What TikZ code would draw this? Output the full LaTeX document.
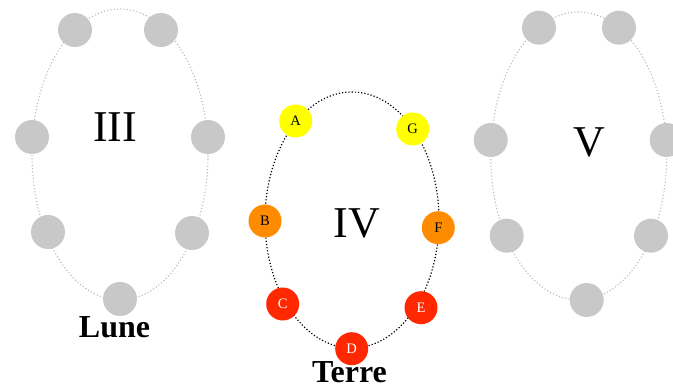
\documentclass[tikz,border=0pt]{standalone}
\usepackage{fontspec}
\setmainfont{Liberation Serif}
\definecolor{ghostgray}{HTML}{C8C8C8}
\definecolor{orbitgray}{HTML}{B8B8B8}
\definecolor{pyellow}{HTML}{FFFF00}
\definecolor{porange}{HTML}{FF8C00}
\definecolor{pred}{HTML}{FF2800}
\begin{document}
\begin{tikzpicture}[x=1pt,y=-1pt,
  ghost/.style={circle, fill=ghostgray, minimum size=34pt, inner sep=0pt},
  gorbit/.style={draw=orbitgray, line width=1.1pt, dash pattern=on 1.1pt off 2.2pt},
  orbit/.style={draw=black, line width=1.2pt, dash pattern=on 1.2pt off 2pt},
  planet/.style={circle, minimum size=33pt, inner sep=0pt, font=\fontsize{14.5}{14.5}\selectfont},
  roman/.style={anchor=base, font=\fontsize{44}{44}\selectfont},
  place/.style={anchor=base, font=\fontsize{32}{32}\selectfont\bfseries}]
\useasboundingbox (0,0) rectangle (673,387);
% left orbit (III)
\draw[gorbit] (120,154.5) ellipse [x radius=88pt, y radius=145.5pt];
\node[ghost] (l1) at (75,30) {};
\node[ghost] (l2) at (161,30) {};
\node[ghost] (l3) at (32,137) {};
\node[ghost] (l4) at (208,137) {};
\node[ghost] (l5) at (48,232) {};
\node[ghost] (l6) at (192,233) {};
\node[ghost] (l7) at (120,299) {};
\node[roman] (t3) at (115,141.7) {III};
\node[place] (lune) at (114.5,337.5) {Lune};
% middle orbit (IV)
\draw[orbit] (352,220) ellipse [x radius=87pt, y radius=128pt];
\node[planet, fill=pyellow] (A) at (295.7,121) {A};
\node[planet, fill=pyellow] (G) at (412.7,129) {G};
\node[planet, fill=porange] (B) at (265,221) {B};
\node[planet, fill=porange] (F) at (438.3,227.7) {F};
\node[planet, fill=pred, text=white] (C) at (282.7,304) {C};
\node[planet, fill=pred, text=white] (E) at (421,307.7) {E};
\node[planet, fill=pred, text=white] (D) at (351.7,348.7) {D};
\node[roman] (t4) at (356.7,237.3) {IV};
\node[place] (terre) at (349.5,382.5) {Terre};
% right orbit (V)
\draw[gorbit] (578.7,156) ellipse [x radius=88pt, y radius=144pt];
\node[ghost] (r1) at (539,27.7) {};
\node[ghost] (r2) at (619,27.7) {};
\node[ghost] (r3) at (490.7,140) {};
\node[ghost] (r4) at (666.7,140) {};
\node[ghost] (r5) at (506.7,235.7) {};
\node[ghost] (r6) at (651,235.7) {};
\node[ghost] (r7) at (586.7,300) {};
\node[roman] (t5) at (589,156.7) {V};
\end{tikzpicture}
\end{document}
